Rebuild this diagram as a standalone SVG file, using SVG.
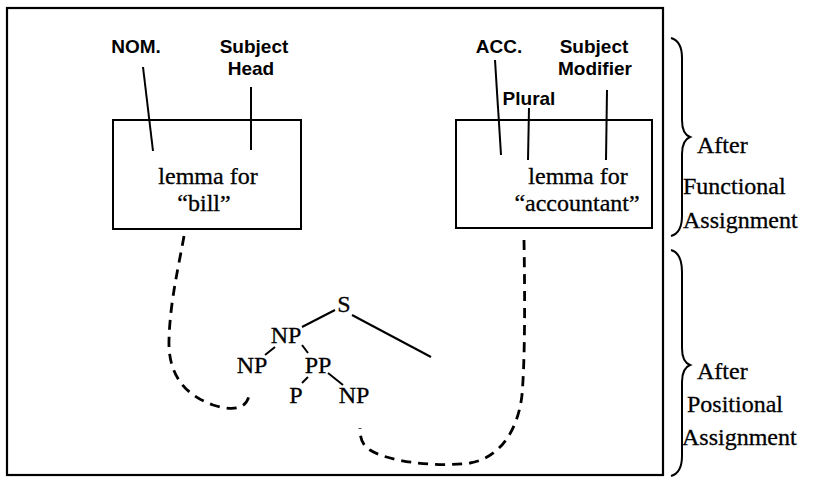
<svg xmlns="http://www.w3.org/2000/svg" width="828" height="478" viewBox="0 0 828 478">
  <style>
    .frame { fill: none; stroke: #000; stroke-width: 2.2; }
    .box { fill: #fff; stroke: #000; stroke-width: 2; }
    .tick { stroke: #000; stroke-width: 2; fill: none; }
    .branch { stroke: #000; stroke-width: 2; fill: none; }
    .dash { stroke: #000; stroke-width: 2.8; fill: none; stroke-dasharray: 10 7; }
    .brace { stroke: #000; stroke-width: 2; fill: none; }
    .lab { font-family: "Liberation Sans", Arial, sans-serif; font-weight: bold; font-size: 19px; fill: #000; text-anchor: middle; }
    .ser { font-family: "Liberation Serif", "Times New Roman", serif; font-size: 24px; fill: #000; stroke: #000; stroke-width: 0.3; text-anchor: middle; }
    .side { font-family: "Liberation Serif", "Times New Roman", serif; font-size: 24px; fill: #000; stroke: #000; stroke-width: 0.3; }
  </style>

  <rect width="828" height="478" fill="#fff"/>

  <!-- outer frame -->
  <rect class="frame" x="7" y="8" width="656" height="467"/>

  <!-- dashed links from the lemmas to the phrase tree -->
  <g id="connectors">
    <path class="dash" d="M184,236 C180,260 170,300 169,340 C168,375 185,395 213,405 C235,412 246,408 249,396"/>
    <path class="dash" d="M524,240 C525,300 525,360 522,395 C518,430 500,458 470,463 C430,468 385,460 370,450 C362,445 360,438 360,428"/>
  </g>

  <!-- left lemma with its features -->
  <g id="lemma-bill">
    <rect class="box" x="113" y="120" width="188" height="109"/>
    <text class="lab" x="136" y="53">NOM.</text>
    <text class="lab" x="254" y="53">Subject</text>
    <text class="lab" x="251" y="75">Head</text>
    <line class="tick" x1="143" y1="67" x2="153" y2="151"/>
    <line class="tick" x1="251" y1="87" x2="251" y2="150"/>
    <text class="ser" x="208" y="184">lemma for</text>
    <text class="ser" x="204" y="211">“bill”</text>
  </g>

  <!-- right lemma with its features -->
  <g id="lemma-accountant">
    <rect class="box" x="456" y="120" width="196" height="108"/>
    <text class="lab" x="499" y="53">ACC.</text>
    <text class="lab" x="594" y="53">Subject</text>
    <text class="lab" x="595" y="75">Modifier</text>
    <text class="lab" x="529" y="105">Plural</text>
    <line class="tick" x1="495" y1="60" x2="501" y2="155"/>
    <line class="tick" x1="529" y1="108" x2="528" y2="160"/>
    <line class="tick" x1="607" y1="90" x2="606" y2="160"/>
    <text class="ser" x="578" y="184">lemma for</text>
    <text class="ser" x="577" y="211">“accountant”</text>
  </g>

  <!-- phrase structure tree -->
  <g id="tree">
    <line class="branch" x1="302" y1="327" x2="335" y2="310"/>
    <line class="branch" x1="352" y1="315" x2="431" y2="357"/>
    <line class="branch" x1="275" y1="347" x2="265" y2="355"/>
    <line class="branch" x1="302" y1="345" x2="308" y2="353"/>
    <line class="branch" x1="308" y1="377" x2="302" y2="383"/>
    <line class="branch" x1="328" y1="373" x2="343" y2="385"/>
    <text class="ser" x="344" y="312">S</text>
    <text class="ser" x="286" y="343">NP</text>
    <text class="ser" x="252" y="373">NP</text>
    <text class="ser" x="318" y="373">PP</text>
    <text class="ser" x="296" y="403">P</text>
    <text class="ser" x="354" y="403">NP</text>
  </g>

  <!-- stage braces and captions -->
  <g id="stage-functional">
    <path class="brace" d="M671,38 C678,40 682,46 682,58 L682,120 C682,130 685,135 690,137 C685,139 682,144 682,154 L682,216 C682,228 678,234 671,236"/>
    <text class="side" x="697" y="153">After</text>
    <text class="side" x="683" y="194">Functional</text>
    <text class="side" x="683" y="228">Assignment</text>
  </g>
  <g id="stage-positional">
    <path class="brace" d="M671,250 C678,252 682,258 682,272 L682,348 C682,358 685,363 690,365 C685,367 682,372 682,382 L682,456 C682,468 678,474 671,476"/>
    <text class="side" x="697" y="379">After</text>
    <text class="side" x="687" y="412">Positional</text>
    <text class="side" x="682" y="445">Assignment</text>
  </g>
</svg>
